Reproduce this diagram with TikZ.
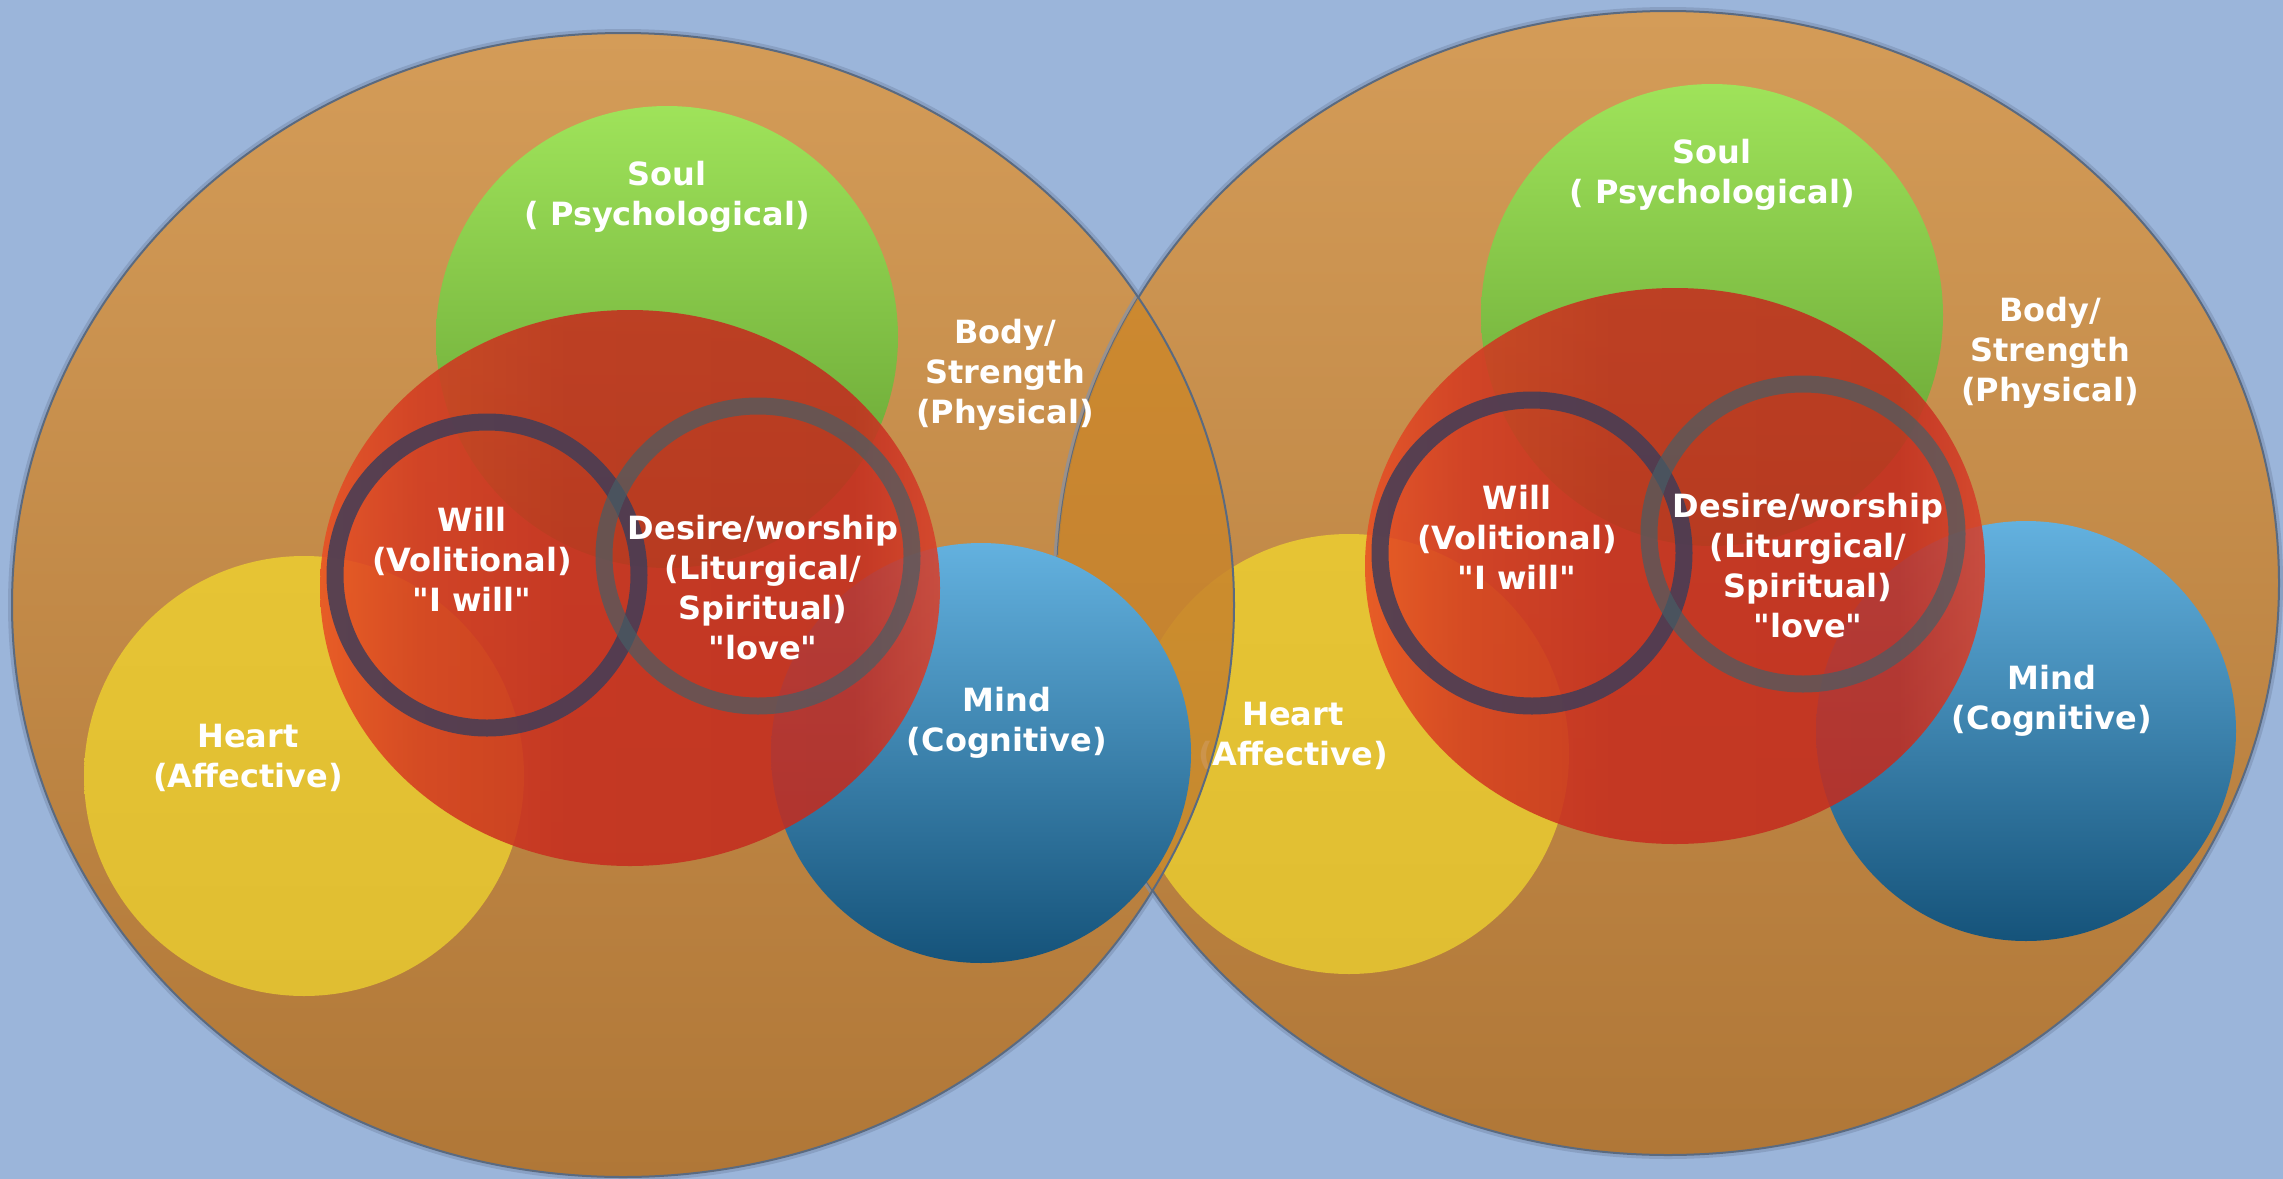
\documentclass[tikz,border=0pt]{standalone}
\usepackage{fontspec}
\setmainfont{DejaVu Sans}[Ligatures=TeXOff]
\definecolor{bgblue}{HTML}{9BB5DA}
\definecolor{bodytop}{HTML}{D49C58}
\definecolor{bodybot}{HTML}{B07737}
\definecolor{lenstop}{HTML}{D38B28}
\definecolor{lensbot}{HTML}{BC7E32}
\definecolor{rimline}{HTML}{5A6A80}
\definecolor{rimshadow}{HTML}{7D93B5}
\definecolor{soultop}{HTML}{9FE35A}
\definecolor{soulbot}{HTML}{5F9A2E}
\definecolor{hearttop}{HTML}{E6C434}
\definecolor{heartbot}{HTML}{E0BE32}
\definecolor{mindtop}{HTML}{63B1DF}
\definecolor{mindbot}{HTML}{15537A}
\definecolor{redleft}{HTML}{E84E24}
\definecolor{redmidA}{HTML}{D33A21}
\definecolor{redmid}{HTML}{C62D1F}
\definecolor{redright}{HTML}{C32C1F}
\definecolor{redrim}{HTML}{D8402A}
\definecolor{willcol}{HTML}{413D58}
\definecolor{desirecol}{HTML}{475E65}
\pgfdeclarehorizontalshading{redsh}{100bp}{color(0bp)=(redleft); color(25bp)=(redleft); color(33bp)=(redmidA); color(45bp)=(redmid); color(68bp)=(redright); color(75bp)=(redrim); color(100bp)=(redrim)}
\tikzset{
  lbl/.style={text=white, font=\bfseries\fontsize{16}{20}\selectfont, align=center, inner sep=0pt},
  bodyshade/.style={top color=bodytop, bottom color=bodybot},
  rimstyle/.style={draw=rimline, line width=1pt},
  rimglow/.style={draw=rimshadow, line width=4pt, opacity=0.6},
  soulshade/.style={top color=soultop, bottom color=soulbot},
  heartshade/.style={top color=hearttop, bottom color=heartbot},
  mindshade/.style={top color=mindtop, bottom color=mindbot},
  redshade/.style={shading=redsh, fill opacity=0.87},
  willring/.style={draw=willcol, line width=8.5pt, draw opacity=0.85},
  desirering/.style={draw=desirecol, line width=8.5pt, draw opacity=0.7},
}
\newcommand\personparts[1]{%
  \shade[soulshade] (667,337) circle [radius=231];
  \shade[heartshade] (304,776) circle [radius=220];
  \shade[mindshade] (981,753) circle [radius=210];
  \shade[redshade] (630,588) ellipse [x radius=310, y radius=278];
  \draw[willring] (487,575) ellipse [x radius=152, y radius=153];
  \draw[desirering] (758,556) ellipse [x radius=154, y radius=150];
  \node[lbl] (#1soul) at (667,197) {Soul\\( Psychological)};
  \node[lbl] (#1body) at (1005,375) {Body/\\Strength\\(Physical)};
  \node[lbl] (#1will) at (472,559) {Will\\(Volitional)\\"I will"};
  \node[lbl] (#1desire) at (763,588) {Desire/worship\\(Liturgical/\\Spiritual)\\"love"};
  \node[lbl] (#1heart) at (248,758) {Heart\\(Affective)};
  \node[lbl] (#1mind) at (1007,723) {Mind\\(Cognitive)};
}
\begin{document}
\begin{tikzpicture}[x=0.5pt,y=-0.5pt]
  \fill[bgblue] (0,0) rectangle (2283,1179);
  \useasboundingbox (0,0) rectangle (2283,1179);
  % left body ellipse (fill only)
  \draw[rimglow] (623,605) ellipse [x radius=611, y radius=572];
  \shade[bodyshade] (623,605) ellipse [x radius=611, y radius=572];
  % right person
  \begin{scope}[shift={(1045,-22)}]
    \draw[rimglow] (623,605) ellipse [x radius=611, y radius=572];
    \shade[bodyshade] (623,605) ellipse [x radius=611, y radius=572];
    \draw[rimstyle] (623,605) ellipse [x radius=611, y radius=572];
    \personparts{R}
  \end{scope}
  % overlap lens: left body seen over the right person
  \begin{scope}
    \clip (623,605) ellipse [x radius=611, y radius=572];
    \shade[top color=lenstop, bottom color=lensbot, fill opacity=0.86] (1668,583) ellipse [x radius=611, y radius=572];
  \end{scope}
  \draw[rimstyle] (623,605) ellipse [x radius=611, y radius=572];
  % left person
  \personparts{L}
\end{tikzpicture}
\end{document}
